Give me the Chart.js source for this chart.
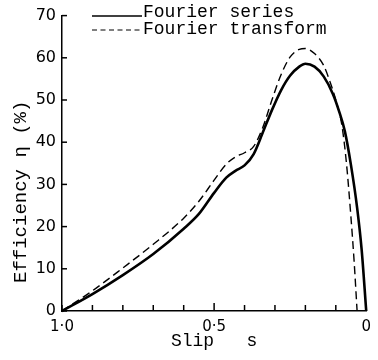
<!DOCTYPE html>
<html>
<head>
<meta charset="utf-8">
<script src="https://cdn.jsdelivr.net/npm/chart.js@4"></script>
<style>
  body { margin: 0; background: #fff; }
  #wrap { width: 378px; height: 360px; }
</style>
</head>
<body>
<div id="wrap"><canvas id="canvas1"></canvas></div>
<script>
// datos
const seriesNames = ['Fourier series', 'Fourier transform'];

const slipSeries = [1.0, 0.9, 0.8, 0.7, 0.6, 0.55, 0.5, 0.46, 0.43, 0.4, 0.37, 0.34, 0.31, 0.28, 0.25, 0.22, 0.2, 0.17, 0.14, 0.11, 0.09, 0.07, 0.05, 0.03, 0.015, 0];
const effSeries = [0, 4.0, 8.5, 13.5, 19.5, 23.0, 28.0, 31.6, 33.2, 34.5, 37.2, 42.3, 47.6, 52.3, 55.8, 57.9, 58.6, 57.9, 55.6, 51.5, 47.5, 42.5, 34.5, 24.5, 14.5, 0];

const slipTransform = [1.0, 0.9, 0.8, 0.7, 0.6, 0.55, 0.5, 0.46, 0.43, 0.4, 0.37, 0.34, 0.31, 0.28, 0.25, 0.22, 0.2, 0.17, 0.14, 0.12, 0.1, 0.08, 0.065, 0.05, 0.04, 0.03];
const effTransform = [0, 4.8, 10.2, 15.8, 22.0, 26.0, 31.0, 34.8, 36.5, 37.5, 39.0, 43.5, 50.0, 56.0, 60.2, 62.0, 62.2, 61.0, 58.2, 54.5, 50.0, 44.0, 35.0, 22.0, 12.0, 0];

const xTicks = [1.0, 0.9, 0.8, 0.7, 0.6, 0.5, 0.4, 0.3, 0.2, 0.1, 0];
const xTickLabels = { '1': '1·0', '0.5': '0·5', '0': '0' };
const yTicks = [0, 10, 20, 30, 40, 50, 60, 70];

const mono = 'Liberation Mono';

// marcas de eje hacia adentro
const tickMarks = {
    id: 'tickMarks',
    afterDraw(chart) {
        const ctx = chart.ctx;
        const area = chart.chartArea;
        const x = chart.scales.x;
        const y = chart.scales.y;
        ctx.save();
        ctx.setLineDash([]);
        ctx.strokeStyle = '#000';
        ctx.lineWidth = 1.5;
        xTicks.forEach(v => {
            const px = x.getPixelForValue(v);
            const len = v === 0.5 ? 8 : 6;
            ctx.beginPath();
            ctx.moveTo(px, area.bottom);
            ctx.lineTo(px, area.bottom - len);
            ctx.stroke();
        });
        yTicks.forEach(v => {
            const py = y.getPixelForValue(v);
            ctx.beginPath();
            ctx.moveTo(area.left, py);
            ctx.lineTo(area.left + 5, py);
            ctx.stroke();
        });
        ctx.restore();
    }
};

// leyenda dentro del area
const innerLegend = {
    id: 'innerLegend',
    afterDraw(chart) {
        const ctx = chart.ctx;
        ctx.save();
        ctx.font = '18px "' + mono + '"';
        ctx.fillStyle = '#000';
        ctx.textBaseline = 'middle';
        const rows = [{ text: 12, line: 16 }, { text: 29, line: 30 }];
        chart.data.datasets.forEach((ds, i) => {
            ctx.strokeStyle = ds.borderColor;
            ctx.lineWidth = i === 0 ? 1.5 : 1.2;
            ctx.setLineDash(i === 0 ? [] : [5, 3.5]);
            ctx.beginPath();
            ctx.moveTo(92, rows[i].line);
            ctx.lineTo(142, rows[i].line);
            ctx.stroke();
            ctx.fillText(ds.label, 143, rows[i].text);
        });
        ctx.restore();
    }
};

const ctx1 = document.getElementById('canvas1');

new Chart(ctx1, {
    type: 'scatter',
    data: {
        datasets: [{
            label: seriesNames[0],
            data: slipSeries.map((s, i) => ({ x: s, y: effSeries[i] })),
            showLine: true,
            borderColor: '#000',
            borderWidth: 2.6,
            pointRadius: 0,
            cubicInterpolationMode: 'monotone',
            clip: false
        },
        {
            label: seriesNames[1],
            data: slipTransform.map((s, i) => ({ x: s, y: effTransform[i] })),
            showLine: true,
            borderColor: '#000',
            borderWidth: 1.4,
            borderDash: [8, 4.5],
            pointRadius: 0,
            cubicInterpolationMode: 'monotone',
            clip: false
        }]
    },
    plugins: [tickMarks, innerLegend],
    options: {
        maintainAspectRatio: false,
        animation: false,
        layout: {
            padding: { top: 15, right: 6, bottom: 0, left: 0 }
        },
        plugins: {
            legend: { display: false },
            tooltip: { enabled: false }
        },
        scales: {
            x: {
                type: 'linear',
                reverse: true,
                min: 0,
                max: 1,
                grid: { display: false, drawTicks: false },
                border: { display: true, color: '#000', width: 1.5 },
                ticks: {
                    stepSize: 0.1,
                    autoSkip: false,
                    maxRotation: 0,
                    padding: 7,
                    color: '#000',
                    font: { family: 'DejaVu Sans', size: 15 },
                    callback: (v) => {
                        const k = String(Math.round(v * 10) / 10);
                        return xTickLabels[k] !== undefined ? xTickLabels[k] : '';
                    }
                },
                title: {
                    display: true,
                    text: 'Slip   s',
                    color: '#000',
                    font: { family: mono, size: 18 },
                    padding: { top: 0, bottom: 8 }
                },
                afterFit: (scale) => { scale.height = 49; }
            },
            y: {
                min: 0,
                max: 70,
                afterBuildTicks: (scale) => { scale.ticks = yTicks.map(v => ({ value: v })); },
                grid: { display: false, drawTicks: false },
                border: { display: true, color: '#000', width: 1.5 },
                ticks: {
                    padding: 6,
                    color: '#000',
                    font: { family: 'DejaVu Sans', size: 16 }
                },
                title: {
                    display: true,
                    text: 'Efficiency η (%)     ',
                    color: '#000',
                    font: { family: mono, size: 19 },
                    padding: { top: 10, bottom: 0 }
                },
                afterFit: (scale) => { scale.width = 62; }
            }
        }
    }
});
</script>
</body>
</html>
